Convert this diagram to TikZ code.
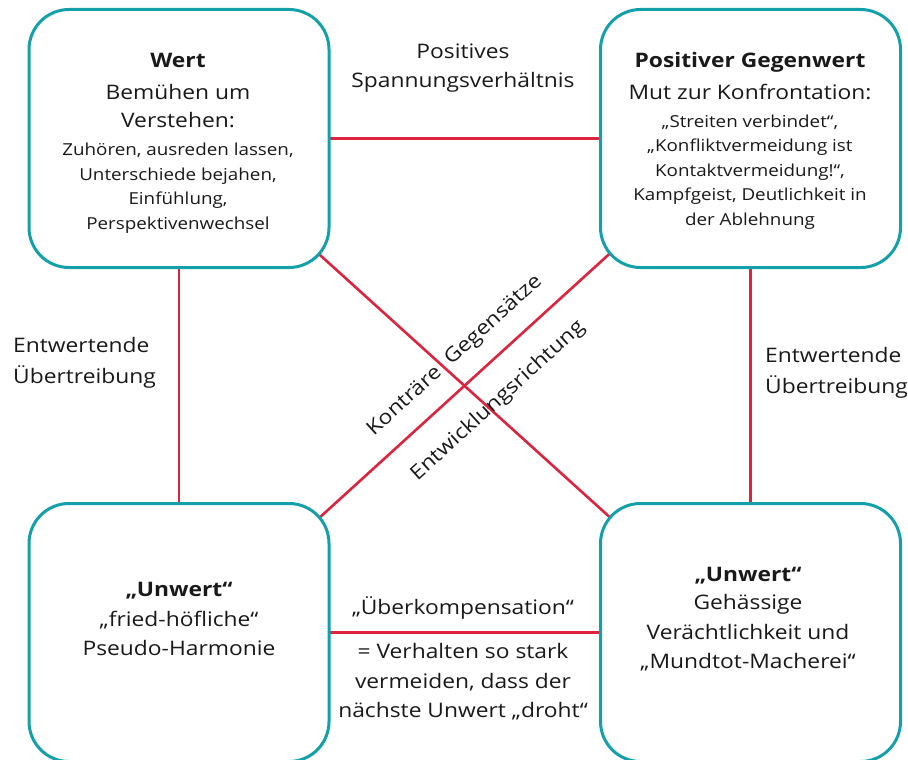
\documentclass[tikz,border=0pt]{standalone}
\usepackage{fontspec}
\setmainfont{Open Sans}[FakeStretch=1.14]
\usetikzlibrary{calc}
\definecolor{tealc}{RGB}{19,160,168}
\definecolor{redc}{RGB}{222,35,62}
\definecolor{txtc}{RGB}{25,25,25}
\newcommand\bigf{\fontsize{20}{29.5}\selectfont}
\newcommand\smf{\fontsize{16.5}{24.5}\selectfont}
\pgfdeclarelayer{bg}
\pgfsetlayers{bg,main}
\begin{document}
\begin{tikzpicture}[x=1pt,y=-1pt,
  box/.style={draw=tealc, line width=3pt, fill=white, rounded corners=40pt, minimum width=300pt, minimum height=258pt, inner sep=0pt},
  link/.style={draw=redc, line width=2.6pt},
  txt/.style={align=center, font=\bigf, inner sep=0pt, text=txtc},
  lbl/.style={align=left, font=\bigf, inner sep=0pt, text=txtc}]
\useasboundingbox (0,0) rectangle (908,760);
\node[box] (A) at (179,138.5) {};
\node[box] (B) at (750.5,138.5) {};
\node[box] (C) at (179,632.5) {};
\node[box] (D) at (750.5,632.5) {};
\begin{pgfonlayer}{bg}
\draw[link] (A.center) -- (B.center);
\draw[link] (C.center) -- (D.center);
\draw[link] (A.center) -- (C.center);
\draw[link] (B.center) -- (D.center);
\draw[link] ($(A.center)+(0,-11)$) -- ($(D.center)+(0,12)$);
\draw[link] ($(B.center)+(0,-13)$) -- ($(C.center)+(0,13)$);
\end{pgfonlayer}
\node[txt] (tA) at (178,143) {{\bfseries Wert}\\[3pt] Bemühen um\\[-1.5pt] Verstehen:\\[-1.5pt]
 {\smf Zuhören, ausreden lassen,}\\[-5pt] {\smf Unterschiede bejahen,}\\[-5pt]
 {\smf Einfühlung,}\\[-5pt] {\smf Perspektivenwechsel}};
\node[txt] (tB) at (750,141) {{\bfseries Positiver Gegenwert}\\[2pt] Mut zur Konfrontation:\\[-1.5pt]
 {\smf „Streiten verbindet“,}\\[-5pt] {\smf „Konfliktvermeidung ist}\\[-5pt]
 {\smf Kontaktvermeidung!“,}\\[-5pt] {\smf Kampfgeist, Deutlichkeit in}\\[-5pt]
 {\smf der Ablehnung}};
\node[txt] (tC) at (179,619) {{\bfseries „Unwert“}\\ „fried-höfliche“\\ Pseudo-Harmonie};
\node[txt] (tD) at (748,619) {{\bfseries „Unwert“}\\[-1pt] Gehässige\\ Verächtlichkeit und\\ „Mundtot-Macherei“};
\node[txt] (top) at (463,68) {Positives\\ Spannungsverhältnis};
\node[lbl, anchor=west] (left) at (13,363) {Entwertende\\[1pt] Übertreibung};
\node[lbl, anchor=west] (right) at (765,373) {Entwertende\\[1pt] Übertreibung};
\node[txt] (over) at (463,608) {„Überkompensation“};
\node[txt] (under) at (463,682) {= Verhalten so stark\\ vermeiden, dass der\\ nächste Unwert „droht“};
\node[txt, rotate=42.3] (k) at (455,356) {Konträre\ \ Gegensätze};
\node[txt, rotate=42.3] (e) at (498,401) {Entwicklungsrichtung};
\end{tikzpicture}
\end{document}
